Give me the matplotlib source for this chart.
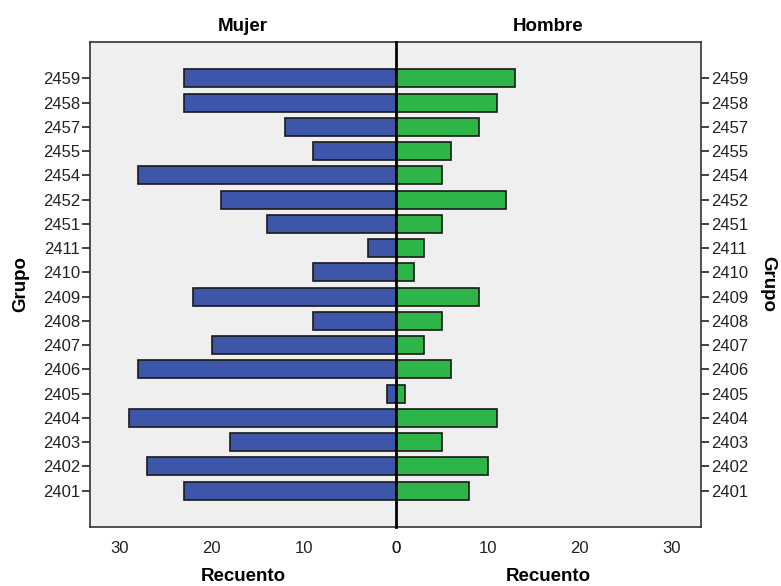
import numpy as np
import matplotlib.pyplot as plt

# data
grupos = ['2459', '2458', '2457', '2455', '2454', '2452', '2451', '2411', '2410',
          '2409', '2408', '2407', '2406', '2405', '2404', '2403', '2402', '2401']
mujer = [23, 23, 12, 9, 28, 19, 14, 3, 9, 22, 9, 20, 28, 1, 29, 18, 27, 23]
hombre = [13, 11, 9, 6, 5, 12, 5, 3, 2, 9, 5, 3, 6, 1, 11, 5, 10, 8]
xticks = [0, 10, 20, 30]

plt.rcParams['font.family'] = ['Liberation Sans', 'DejaVu Sans']
W, H = 781, 586
fig = plt.figure(figsize=(W / 100, H / 100), dpi=100)

x0, xm, x1 = 90, 396, 701
ytop, ybot = 42, 527
axL = fig.add_axes([x0 / W, 1 - ybot / H, (xm - x0) / W, (ybot - ytop) / H])
axR = fig.add_axes([xm / W, 1 - ybot / H, (x1 - xm) / W, (ybot - ytop) / H])

y = np.arange(len(grupos))[::-1]
bg = '#efefef'
tickfont = dict(size=12)

for ax, vals, col in [(axL, mujer, '#3d56a9'), (axR, hombre, '#2db54a')]:
    ax.set_facecolor(bg)
    ax.barh(y, vals, height=0.75, color=col, edgecolor='#1a1a1a', linewidth=1.2)
    ax.set_ylim(-1.5, len(grupos) - 0.5 + 1.0)
    ax.set_xlim(0, 33.2)
    ax.set_xticks(xticks)
    ax.set_xticklabels([str(t) for t in xticks], **tickfont)
    ax.set_yticks(y)
    ax.set_yticklabels(grupos, **tickfont)
    ax.tick_params(axis='x', length=0, pad=10, colors='#222222')
    ax.tick_params(axis='y', length=6, width=1.2, colors='#222222', pad=1)
    for s in ax.spines.values():
        s.set_color('#333333')
        s.set_linewidth(1.2)

axL.invert_xaxis()
axL.spines['right'].set_visible(False)
axR.spines['left'].set_visible(False)
axR.yaxis.tick_right()
# center line on top of both panels
axL.set_zorder(3)
axL.axvline(0, color='black', linewidth=2, zorder=5, clip_on=False)

axL.set_title('Mujer', fontsize=13.5, fontweight='bold', pad=8)
axR.set_title('Hombre', fontsize=13.5, fontweight='bold', pad=8)
axL.set_xlabel('Recuento', fontsize=13.5, fontweight='bold', labelpad=9)
axR.set_xlabel('Recuento', fontsize=13.5, fontweight='bold', labelpad=9)
axL.set_ylabel('Grupo', fontsize=13.5, fontweight='bold', labelpad=10)
axR.yaxis.set_label_position('right')
axR.set_ylabel('Grupo', fontsize=13.5, fontweight='bold', rotation=-90, labelpad=20)

fig.savefig('out.png', dpi=100)
